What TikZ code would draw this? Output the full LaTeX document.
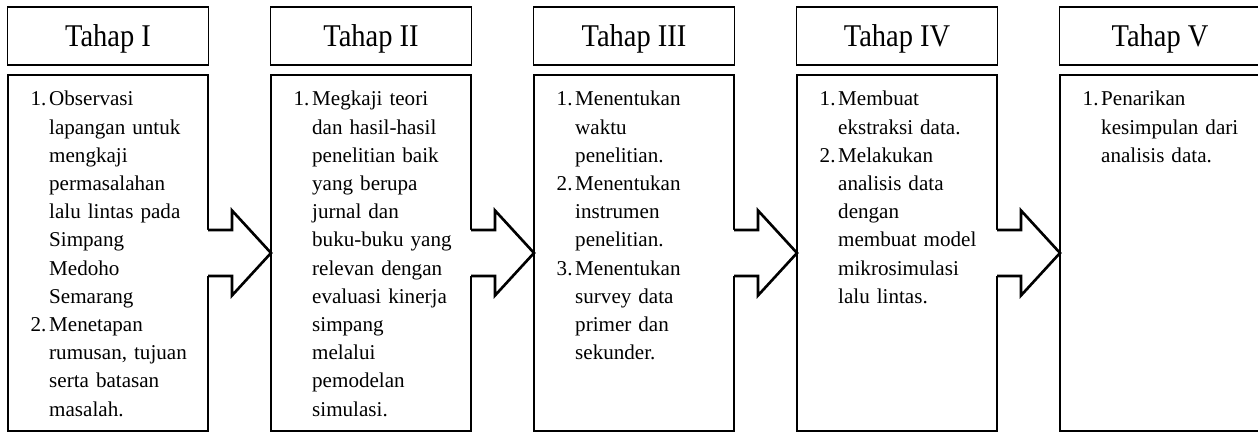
\documentclass[tikz,border=0pt]{standalone}
\usepackage{fontspec}
\setmainfont{Liberation Serif}
\newfontfamily\judulfont{Liberation Serif}[FakeStretch=0.9]
\usetikzlibrary{positioning}

% nomor butir di kiri teks
\newcommand{\butir}[1]{\leavevmode\llap{\makebox[0.37cm][l]{#1}}}

% panah dari kotak #1 ke kotak #2
\newcommand{\panah}[2]{%
  \fill[white] ([shift={(-0.06,0.46)}]#1.east) -- ([shift={(0.48,0.46)}]#1.east)
    -- ([shift={(0.48,0.85)}]#1.east) -- ([xshift=-0.05cm]#2.west)
    -- ([shift={(0.48,-0.85)}]#1.east) -- ([shift={(0.48,-0.46)}]#1.east)
    -- ([shift={(-0.06,-0.46)}]#1.east) -- cycle;
  \draw[garis panah] ([yshift=0.46cm]#1.east) -- ([shift={(0.48,0.46)}]#1.east)
    -- ([shift={(0.48,0.85)}]#1.east) -- (#2.west)
    -- ([shift={(0.48,-0.85)}]#1.east) -- ([shift={(0.48,-0.46)}]#1.east)
    -- ([yshift=-0.46cm]#1.east);
}

\begin{document}
\begin{tikzpicture}[thick,
  judul/.style={draw, line width=1.1pt, minimum width=4.02cm, minimum height=1.16cm,
    inner sep=0pt, outer sep=0pt, text height=12pt, text depth=0pt,
    font=\judulfont\fontsize{18}{20}\selectfont},
  isi/.style={draw, line width=1.5pt, minimum width=4cm, minimum height=7.12cm,
    inner sep=0pt, outer sep=0pt, below=0.2cm of #1},
  teks/.style={anchor=north west, inner sep=0pt, text width=3.2cm, align=left,
    font=\fontsize{12}{16.05}\selectfont},
  garis panah/.style={line width=1.5pt, line join=miter}]

\useasboundingbox (0,0) rectangle (25.16,8.70);
\clip (0,0) rectangle (25.16,8.70);

% JUDUL TAHAP
\node[judul] (tahap1) at (2.16,7.98) {Tahap I};
\node[judul, right=1.24cm of tahap1] (tahap2) {Tahap II};
\node[judul, right=1.24cm of tahap2] (tahap3) {Tahap III};
\node[judul, right=1.24cm of tahap3] (tahap4) {Tahap IV};
\node[judul, right=1.24cm of tahap4] (tahap5) {Tahap V};

% KOTAK ISI
\node[isi=tahap1] (isi1) {};
\node[isi=tahap2] (isi2) {};
\node[isi=tahap3] (isi3) {};
\node[isi=tahap4] (isi4) {};
\node[isi=tahap5] (isi5) {};

% Panah antar tahap
\panah{isi1}{isi2}
\panah{isi2}{isi3}
\panah{isi3}{isi4}
\panah{isi4}{isi5}

% Tahap I
\node[teks] (teks1) at ([shift={(0.81,-0.21)}]isi1.north west) {\strut\butir{1.}Observasi\\
  lapangan untuk\\ mengkaji\\ permasalahan\\ lalu lintas pada\\ Simpang\\ Medoho\\ Semarang\\
  \butir{2.}Menetapan\\ rumusan, tujuan\\ serta batasan\\ masalah.};

% Tahap II
\node[teks] (teks2) at ([shift={(0.81,-0.21)}]isi2.north west) {\strut\butir{1.}Megkaji teori\\
  dan hasil-hasil\\ penelitian baik\\ yang berupa\\ jurnal dan\\ buku-buku yang\\
  relevan dengan\\ evaluasi kinerja\\ simpang\\ melalui\\ pemodelan\\ simulasi.};

% Tahap III
\node[teks] (teks3) at ([shift={(0.81,-0.21)}]isi3.north west) {\strut\butir{1.}Menentukan\\
  waktu\\ penelitian.\\ \butir{2.}Menentukan\\ instrumen\\ penelitian.\\
  \butir{3.}Menentukan\\ survey data\\ primer dan\\ sekunder.};

% Tahap IV
\node[teks] (teks4) at ([shift={(0.81,-0.21)}]isi4.north west) {\strut\butir{1.}Membuat\\
  ekstraksi data.\\ \butir{2.}Melakukan\\ analisis data\\ dengan\\ membuat model\\
  mikrosimulasi\\ lalu lintas.};

% Tahap V
\node[teks] (teks5) at ([shift={(0.81,-0.21)}]isi5.north west) {\strut\butir{1.}Penarikan\\
  kesimpulan dari\\ analisis data.};

\end{tikzpicture}
\end{document}
